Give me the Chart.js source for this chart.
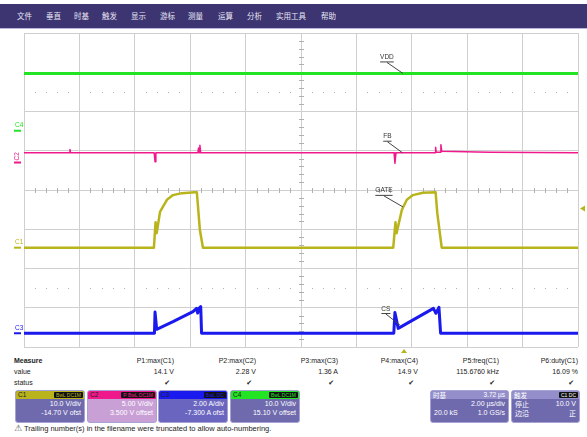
<!DOCTYPE html>
<html>
<head>
<meta charset="utf-8">
<script src="https://cdn.jsdelivr.net/npm/chart.js@4.4.0/dist/chart.umd.min.js"></script>
<style>
  html, body { margin: 0; padding: 0; width: 587px; height: 437px; overflow: hidden; background: #fff;
    font-family: "Liberation Sans", Arial, "Noto Sans CJK SC", sans-serif; color: #222; }
  #menu { position: absolute; left: 0; top: 4px; width: 587px; height: 24px; background: #3d3571;
    border-bottom: 1px solid #b9b5dc; }
  #menu span { position: absolute; top: 7px; font-size: 7.5px; line-height: 10px; color: #e8e6f6;
    font-family: "Noto Sans CJK SC", sans-serif; }
  #scope { position: absolute; left: 0; top: 28px; width: 587px; height: 328px; }
  .txt { position: absolute; font-size: 7px; line-height: 9px; white-space: nowrap; }
  .r { text-align: right; }
  .box { position: absolute; top: 390px; height: 31px; border: 1px solid #a6a2d4; border-radius: 3px;
    overflow: hidden; font-size: 7px; color: #fff; }
  .box .hd { position: relative; height: 8px; line-height: 8px; padding: 0 2px; color: #222; font-size: 6.5px; }
  .box .hd .bd { position: absolute; right: 1px; top: 1px; height: 6px; line-height: 6px; font-size: 5px;
    background: #111; padding: 0 2px; border-radius: 1px; }
  .box .ln { position: relative; height: 9px; line-height: 10px; padding: 0 3px; font-size: 7px; }
  .box .ln .l { position: absolute; left: 3px; }
  .box .ln .rr { position: absolute; right: 3px; }
  .cjk { font-family: "Noto Sans CJK SC", sans-serif; }
</style>
</head>
<body>
<div id="menu"></div>
<div id="scope"><canvas id="scopeChart"></canvas></div>
<div id="panel"></div>

<script>
// menu bar
const menuItems = ['文件', '垂直', '时基', '触发', '显示', '游标', '测量', '运算', '分析', '实用工具', '帮助'];
const menuLefts = [17, 46, 74, 102, 131, 160, 188, 218, 247, 276, 321];

// timebase: 2 us/div, 10 divisions, centre = 0
const timeMin = -10;
const timeMax = 10;
const triggerDelay = 3.72; // us

// channel settings (LeCroy style: position = (value + offset) / perDiv)
const chanNames = ['C1', 'C2', 'C3', 'C4'];
const chanPerDiv = [10, 5, 2, 10];
const chanOffset = [-14.7, 3.5, -7.3, 15.1];
const chanColors = ['#b9b41c', '#f0198c', '#1a1aee', '#22e422'];
const triggerLevel = 10.0; // V on C1

// C1 GATE (V)
const gateTime = [-10, -5.31, -5.25, -5.21, -5.09, -4.84, -4.62, -4.30, -3.83, -3.76, -3.65, -3.54,
  3.33, 3.41, 3.45, 3.64, 3.82, 4.04, 4.40, 4.86, 4.92, 5.08, 10];
const gateVolt = [0, 0, 6.5, 3.7, 9.1, 12.2, 13.4, 13.9, 14.1, 14.1, 4.5, 0,
  0, 6.5, 3.7, 9.6, 12.2, 13.4, 14.0, 14.1, 8.8, 0, 0];

// C2 FB (V)
const fbTime = [-10, -8.36, -8.34, -8.32, -5.30, -5.27, -5.24, -3.72, -3.70, -3.68, -3.65, -3.62,
  3.36, 3.39, 3.43, 4.84, 4.86, 4.88, 5.03, 5.05, 5.08, 6.8, 10];
const fbVolt = [1.25, 1.25, 1.65, 1.25, 1.25, 0.1, 1.25, 1.25, 1.85, 1.25, 2.2, 1.25,
  1.25, -0.1, 1.25, 1.25, 1.94, 1.3, 1.3, 2.28, 1.45, 1.3, 1.25];

// C3 CS (A)
const csTime = [-10, -5.29, -5.27, -5.21, -4.62, -3.90, -3.77, -3.73, -3.68, -3.62, -3.59,
  3.35, 3.39, 3.51, 4.78, 4.87, 4.98, 5.04, 10];
const csAmp = [0, 0, 1.08, 0.2, 0.59, 1.10, 1.27, 1.03, 1.27, 1.36, 0,
  0, 1.06, 0.25, 1.27, 1.02, 1.32, 0, 0];

// C4 VDD (V)
const vddTime = [-10, 10];
const vddVolt = [14.6, 14.6];

// trace tags
const tagLabels = ['VDD', 'FB', 'GATE', 'CS'];
const tagChan = [3, 1, 0, 2];
const tagTime = [3.68, 3.66, 3.68, 3.57];
const tagValue = [14.6, 1.25, 10.4, 0.42];

// measurements
const measNames = ['P1:max(C1)', 'P2:max(C2)', 'P3:max(C3)', 'P4:max(C4)', 'P5:freq(C1)', 'P6:duty(C1)'];
const measValues = ['14.1 V', '2.28 V', '1.36 A', '14.9 V', '115.6760 kHz', '16.09 %'];
const measRight = [174, 256, 338, 418, 499, 578];

// channel descriptor boxes
const boxScale = ['10.0 V/div', '5.00 V/div', '2.00 A/div', '10.0 V/div'];
const boxOffset = ['-14.70 V ofst', '3.500 V offset', '-7.300 A ofst', '15.10 V offset'];
const boxBadge = ['BwL DC1M', 'P BwL DC1M', 'BwL DC', 'BwL DC1M'];
const boxLeft = [15, 87, 158, 230];
const boxBody = ['#6f6aae', '#c9a0d6', '#6a66c0', '#6f6aae'];

function toDiv(ch, v) {
  return (v + chanOffset[ch]) / chanPerDiv[ch];
}
function trace(ch, times, vals) {
  return times.map((t, i) => ({ x: t, y: toDiv(ch, vals[i]) }));
}

// build menu
const menu = document.getElementById('menu');
menuItems.forEach((m, i) => {
  const s = document.createElement('span');
  s.textContent = m;
  s.style.left = menuLefts[i] + 'px';
  menu.appendChild(s);
});

// build measure panel
const panel = document.getElementById('panel');
function addText(html, css, cls) {
  const d = document.createElement('div');
  d.className = 'txt ' + (cls || '');
  d.innerHTML = html;
  Object.assign(d.style, css);
  panel.appendChild(d);
}
addText('<b>Measure</b>', { left: '14px', top: '356px' });
addText('value', { left: '14px', top: '367px' });
addText('status', { left: '14px', top: '378px' });
measNames.forEach((n, i) => {
  const right = (587 - measRight[i]) + 'px';
  addText(n, { right: right, top: '356px' }, 'r');
  addText(measValues[i], { right: right, top: '367px' }, 'r');
  addText('<span style="font-family:DejaVu Sans;font-size:7px">✔</span>', { right: (587 - measRight[i] + 4) + 'px', top: '378px' }, 'r');
});

chanNames.forEach((c, i) => {
  const b = document.createElement('div');
  b.className = 'box';
  b.style.left = boxLeft[i] + 'px';
  b.style.width = '68px';
  b.style.background = boxBody[i];
  b.innerHTML =
    '<div class="hd" style="background:' + chanColors[i] + '">' + c +
    '<span class="bd" style="color:' + chanColors[i] + '">' + boxBadge[i] + '</span></div>' +
    '<div class="ln"><span class="rr">' + boxScale[i] + '</span></div>' +
    '<div class="ln"><span class="rr">' + boxOffset[i] + '</span></div>';
  panel.appendChild(b);
});

const tb = document.createElement('div');
tb.className = 'box';
tb.style.left = '430px';
tb.style.width = '77px';
tb.style.background = '#6f6aae';
tb.innerHTML =
  '<div class="hd" style="background:#948fcb;color:#fff"><span class="cjk">时基</span>' +
  '<span style="position:absolute;right:3px">' + triggerDelay.toFixed(2) + ' µs</span></div>' +
  '<div class="ln"><span class="rr">2.00 µs/div</span></div>' +
  '<div class="ln"><span class="l">20.0 kS</span><span class="rr">1.0 GS/s</span></div>';
panel.appendChild(tb);

const trg = document.createElement('div');
trg.className = 'box';
trg.style.left = '511px';
trg.style.width = '67px';
trg.style.background = '#6f6aae';
trg.innerHTML =
  '<div class="hd" style="background:#948fcb;color:#fff"><span class="cjk">触发</span>' +
  '<span class="bd" style="color:#fff">C1 DC</span></div>' +
  '<div class="ln"><span class="l cjk">停止</span><span class="rr">' + triggerLevel.toFixed(1) + ' V</span></div>' +
  '<div class="ln"><span class="l cjk">边沿</span><span class="rr cjk">正</span></div>';
panel.appendChild(trg);

addText('<span style="font-family:DejaVu Sans;font-size:9px;color:#555">⚠</span> Trailing number(s) in the filename were truncated to allow auto-numbering.',
  { left: '14px', top: '423px', fontSize: '7.5px', lineHeight: '11px' });

// grid decorations, channel markers, tags
const scopeDecor = {
  id: 'scopeDecor',
  beforeDatasetsDraw(chart) {
    const { ctx, scales: { x, y } } = chart;
    ctx.save();
    ctx.fillStyle = '#b0b0b0';
    const x0 = x.getPixelForValue(0);
    const y0 = y.getPixelForValue(0);
    // minor ticks along the horizontal centre axis and dotted rows
    for (let i = -25; i <= 25; i++) {
      if (i % 5 === 0) continue;
      const px = Math.round(x.getPixelForValue(i * 0.4));
      ctx.fillRect(px, y0 - 2, 1, 5);
      [2.5, -2.5].forEach(d => ctx.fillRect(px, Math.round(y.getPixelForValue(d)), 1, 1));
    }
    // minor ticks along the vertical centre axis
    for (let j = -20; j <= 20; j++) {
      if (j % 5 === 0) continue;
      const py = Math.round(y.getPixelForValue(j * 0.2));
      ctx.fillRect(x0 - 2, py, 5, 1);
    }
    ctx.restore();
  },
  afterDraw(chart) {
    const { ctx, chartArea: a, scales: { x, y } } = chart;
    ctx.save();
    // channel ground markers at the left
    ctx.font = '6.5px "Liberation Sans", Arial';
    chanNames.forEach((c, i) => {
      const py = y.getPixelForValue(toDiv(i, 0));
      ctx.fillStyle = chanColors[i];
      ctx.fillRect(14, py - 1, 7, 2);
      if (c === 'C2') {
        ctx.save();
        ctx.translate(20, py - 2);
        ctx.rotate(-Math.PI / 2);
        ctx.textBaseline = 'bottom';
        ctx.fillText(c, 0, 0);
        ctx.restore();
      } else {
        ctx.textBaseline = 'bottom';
        ctx.fillText(c, 15, py - 2);
      }
    });
    // trigger level marker (right) and trigger time marker (bottom)
    ctx.fillStyle = chanColors[0];
    const ty = y.getPixelForValue(toDiv(0, triggerLevel));
    ctx.beginPath();
    ctx.moveTo(a.right + 2, ty);
    ctx.lineTo(a.right + 7, ty - 3);
    ctx.lineTo(a.right + 7, ty + 3);
    ctx.fill();
    const tx = x.getPixelForValue(triggerDelay);
    ctx.beginPath();
    ctx.moveTo(tx, a.bottom + 2);
    ctx.lineTo(tx - 3, a.bottom + 6);
    ctx.lineTo(tx + 3, a.bottom + 6);
    ctx.fill();
    // trace tags with leader lines
    const tagDx = [-16, -15, -19, -14];
    ctx.font = '6.5px "Liberation Sans", Arial';
    ctx.textAlign = 'center';
    ctx.textBaseline = 'bottom';
    tagLabels.forEach((lab, i) => {
      const ax = x.getPixelForValue(tagTime[i]);
      const ay = y.getPixelForValue(toDiv(tagChan[i], tagValue[i]));
      const cx = ax + tagDx[i];
      const cy = ay - 12;
      const w = ctx.measureText(lab).width;
      ctx.fillStyle = '#333';
      ctx.fillText(lab, cx, cy - 1);
      ctx.strokeStyle = '#444';
      ctx.lineWidth = 1;
      ctx.beginPath();
      ctx.moveTo(cx - w / 2, cy + 0.5);
      ctx.lineTo(cx + w / 2, cy + 0.5);
      ctx.moveTo(cx, cy + 1);
      ctx.lineTo(ax, ay);
      ctx.stroke();
    });
    ctx.restore();
  }
};

new Chart(document.getElementById('scopeChart'), {
  type: 'line',
  data: {
    datasets: [
      { label: 'C4', data: trace(3, vddTime, vddVolt), borderColor: chanColors[3], borderWidth: 3 },
      { label: 'C2', data: trace(1, fbTime, fbVolt), borderColor: chanColors[1], borderWidth: 1.5 },
      { label: 'C1', data: trace(0, gateTime, gateVolt), borderColor: chanColors[0], borderWidth: 2.5 },
      { label: 'C3', data: trace(2, csTime, csAmp), borderColor: chanColors[2], borderWidth: 3 }
    ]
  },
  options: {
    responsive: true,
    maintainAspectRatio: false,
    animation: false,
    elements: { point: { radius: 0 }, line: { tension: 0, borderJoinStyle: 'round' } },
    layout: { padding: { left: 24, right: 9, top: 5, bottom: 9 } },
    plugins: { legend: { display: false }, tooltip: { enabled: false } },
    scales: {
      x: {
        type: 'linear', min: timeMin, max: timeMax,
        ticks: { display: false, stepSize: 2 },
        grid: { color: '#cfcfcf', drawTicks: false },
        border: { display: false }
      },
      y: {
        type: 'linear', min: -4, max: 4,
        ticks: { display: false, stepSize: 1 },
        grid: { color: '#cfcfcf', drawTicks: false },
        border: { display: false }
      }
    }
  },
  plugins: [scopeDecor]
});
</script>
</body>
</html>
